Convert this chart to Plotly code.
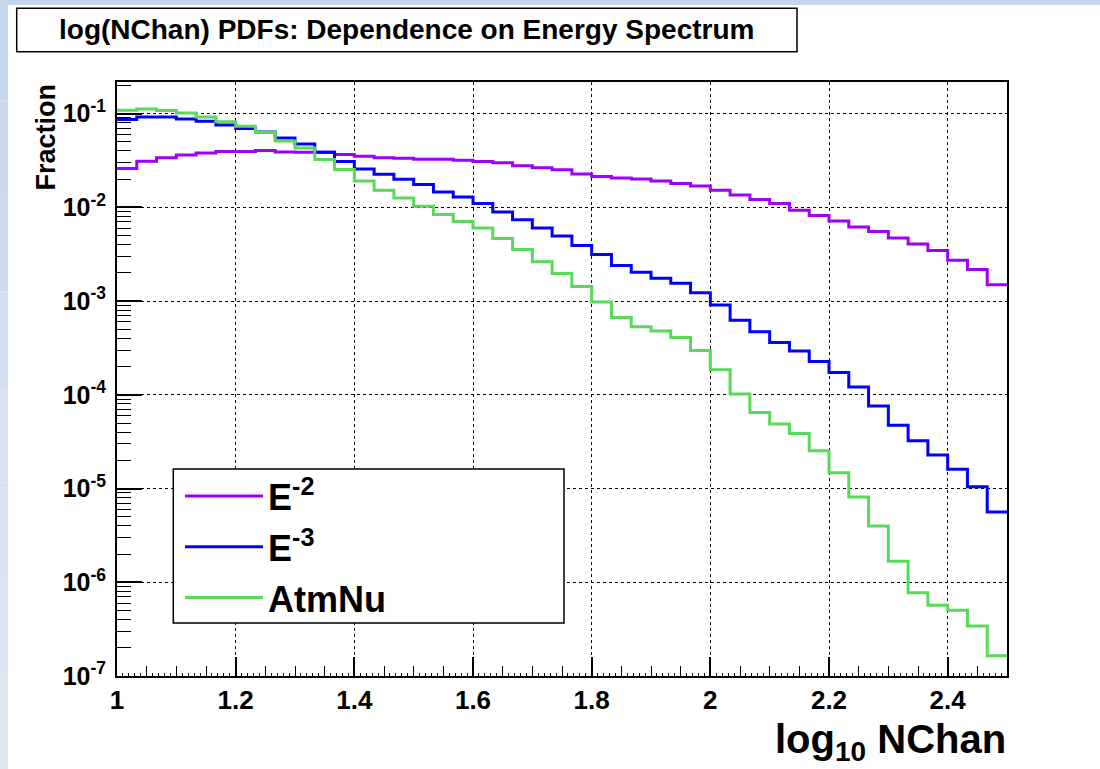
import plotly.graph_objects as go

# ---- data -------------------------------------------------------------
x_lo, x_hi, n_bins = 1.0, 2.5, 45

e2_vals = [0.0259, 0.0310, 0.0337, 0.0362, 0.0380, 0.0394, 0.0394, 0.0404, 0.0390, 0.0386,
           0.0386, 0.0366, 0.0351, 0.0337, 0.0334, 0.0326, 0.0326, 0.0318, 0.0308, 0.0298,
           0.0277, 0.0265, 0.0251, 0.0227, 0.0213, 0.0206, 0.0200, 0.0191, 0.0179, 0.0169,
           0.0152, 0.0135, 0.0121, 0.01096, 0.00931, 0.00817, 0.00716, 0.00618, 0.00552, 0.00472,
           0.00405, 0.00346, 0.00273, 0.00217, 0.00149]

e3_vals = [0.0863, 0.0920, 0.0920, 0.0877, 0.0828, 0.0757, 0.0692, 0.0637, 0.0550, 0.0474,
           0.0386, 0.0308, 0.0256, 0.0225, 0.0199, 0.0175, 0.0146, 0.0129, 0.01096, 0.00893,
           0.00735, 0.00603, 0.00495, 0.00392, 0.00314, 0.00239, 0.00203, 0.00175, 0.00155, 0.00123,
           0.000910, 0.000625, 0.000470, 0.000362, 0.000294, 0.000226, 0.000173, 0.000121, 7.59e-5, 4.72e-5,
           3.24e-5, 2.28e-5, 1.61e-5, 1.045e-5, 5.61e-6]

atm_vals = [0.1084, 0.1119, 0.1076, 0.1014, 0.0920, 0.0820, 0.0733, 0.0632, 0.0511, 0.0430,
            0.0324, 0.0253, 0.0191, 0.0152, 0.0126, 0.01028, 0.00838, 0.00706, 0.00603, 0.00465,
            0.00355, 0.00262, 0.00197, 0.00143, 0.000980, 0.000668, 0.000531, 0.000479, 0.000409, 0.000297,
            0.000185, 0.000102, 6.49e-5, 4.88e-5, 3.87e-5, 2.53e-5, 1.476e-5, 8.11e-6, 3.98e-6, 1.675e-6,
            7.74e-7, 5.69e-7, 5.02e-7, 3.42e-7, 1.64e-7]

series_names = ["E<sup>-2</sup>", "E<sup>-3</sup>", "AtmNu"]
series_colors = ["#9c00ff", "#0000ff", "#5ad85a"]

x_tick_vals = [1.0, 1.2, 1.4, 1.6, 1.8, 2.0, 2.2, 2.4]
x_tick_text = ["1", "1.2", "1.4", "1.6", "1.8", "2", "2.2", "2.4"]
y_tick_vals = [1e-7, 1e-6, 1e-5, 1e-4, 1e-3, 1e-2, 1e-1]
y_tick_text = ["10<sup>-7</sup>", "10<sup>-6</sup>", "10<sup>-5</sup>", "10<sup>-4</sup>",
               "10<sup>-3</sup>", "10<sup>-2</sup>", "10<sup>-1</sup>"]

title_text = "log(NChan) PDFs: Dependence on Energy Spectrum"
x_title = "log<sub>10</sub> NChan"
y_title = "Fraction"

# ---- geometry ---------------------------------------------------------
W, H = 1100, 769
ML, MR, MT, MB = 117, 93, 82, 93
PL, PR, PT, PB = ML, W - MR, MT, H - MB

def px(x):
    return (x - PL) / (PR - PL)

def py(y):
    return (PB - y) / (PB - PT)

FONT = "Liberation Sans, Arial, Helvetica, sans-serif"

bw = (x_hi - x_lo) / n_bins
edges = [x_lo + i * bw for i in range(n_bins + 1)]

fig = go.Figure()
for name, vals, col in zip(series_names, [e2_vals, e3_vals, atm_vals], series_colors):
    fig.add_trace(go.Scatter(
        x=edges, y=vals + [vals[-1]], mode="lines", name=name,
        line=dict(color=col, width=3, shape="hv"), legendgroup=name,
    ))

# secondary overlay axis for the fine (0.01) ticks
fig.add_trace(go.Scatter(x=[x_lo, x_hi], y=[None, None], xaxis="x2", showlegend=False,
                         hoverinfo="skip", mode="lines"))

shapes = []
# slide-like background bands
shapes.append(dict(type="rect", xref="paper", yref="paper", x0=px(0), x1=px(W), y0=py(5), y1=py(0),
                   fillcolor="#c6d6ee", line=dict(width=0), layer="below"))
band_cols = ["#c8d8ee", "#cbdaef", "#cfdcf0", "#d2def1", "#d6e1f1", "#d9e3f2", "#dce5f2", "#dfe7f3"]
nb = len(band_cols)
for i, c in enumerate(band_cols):
    y0p = 5 + (H - 5) * i / nb
    y1p = 5 + (H - 5) * (i + 1) / nb
    shapes.append(dict(type="rect", xref="paper", yref="paper", x0=px(0), x1=px(8),
                       y0=py(y1p), y1=py(y0p), fillcolor=c, line=dict(width=0), layer="below"))
# title box
shapes.append(dict(type="rect", xref="paper", yref="paper", x0=px(16.7), x1=px(797),
                   y0=py(51.7), y1=py(8.3), fillcolor="white", line=dict(color="black", width=1.5)))
# legend box
shapes.append(dict(type="rect", xref="paper", yref="paper", x0=px(173.3), x1=px(564),
                   y0=py(623), y1=py(469), fillcolor="white", line=dict(color="black", width=1.5),
                   layer="above"))

annotations = [
    dict(text="<b>" + title_text + "</b>", xref="paper", yref="paper", x=px(406), y=py(30),
         xanchor="center", yanchor="middle", showarrow=False,
         font=dict(family=FONT, size=28, color="black")),
    dict(text="<b>" + x_title + "</b>", xref="paper", yref="paper", x=px(1008), y=py(769),
         xanchor="right", yanchor="bottom", showarrow=False,
         font=dict(family=FONT, size=40, color="black")),
    dict(text="<b>" + y_title + "</b>", xref="paper", yref="paper", x=px(45), y=py(82),
         xanchor="center", yanchor="top", showarrow=False, textangle=-90,
         font=dict(family=FONT, size=27, color="black")),
]

fig.update_layout(
    width=W, height=H,
    margin=dict(l=ML, r=MR, t=MT, b=MB, pad=0),
    paper_bgcolor="white", plot_bgcolor="white",
    shapes=shapes, annotations=annotations,
    showlegend=True,
    legend=dict(x=px(180), y=py(466), xanchor="left", yanchor="top",
                bgcolor="rgba(0,0,0,0)", borderwidth=0,
                font=dict(family=FONT, size=36, color="black", weight="bold"),
                tracegroupgap=1, itemwidth=78),
    xaxis=dict(range=[x_lo, x_hi], tickvals=x_tick_vals, ticktext=x_tick_text,
               ticks="inside", ticklen=19, tickwidth=1.5, tickcolor="black",
               showline=True, linecolor="black", linewidth=2, mirror=True,
               showgrid=True, gridcolor="black", griddash="dot", gridwidth=1,
               zeroline=False,
               tickfont=dict(family=FONT, size=26, color="black", weight="bold"),
               minor=dict(dtick=0.05, tick0=1.0, ticks="inside", ticklen=10, tickwidth=1.2,
                          tickcolor="black", showgrid=False)),
    xaxis2=dict(range=[x_lo, x_hi], overlaying="x", side="bottom", anchor="y",
                tick0=1.0, dtick=0.01, ticks="inside", ticklen=3, tickwidth=1, tickcolor="black",
                showticklabels=False, showgrid=False, zeroline=False, showline=False),
    yaxis=dict(type="log", range=[-7, -0.663], tickvals=y_tick_vals, ticktext=y_tick_text,
               ticks="inside", ticklen=25, tickwidth=1.5, tickcolor="black",
               showline=True, linecolor="black", linewidth=2, mirror=True,
               showgrid=True, gridcolor="black", griddash="dot", gridwidth=1,
               zeroline=False, ticklabelstandoff=4,
               tickfont=dict(family=FONT, size=25, color="black", weight="bold"),
               minor=dict(dtick="D1", ticks="inside", ticklen=14, tickwidth=1.2,
                          tickcolor="black", showgrid=False)),
)

fig.write_html("out.html", config={"displayModeBar": False},
               post_script="document.body.style.margin='0px';document.body.style.overflow='hidden';")
